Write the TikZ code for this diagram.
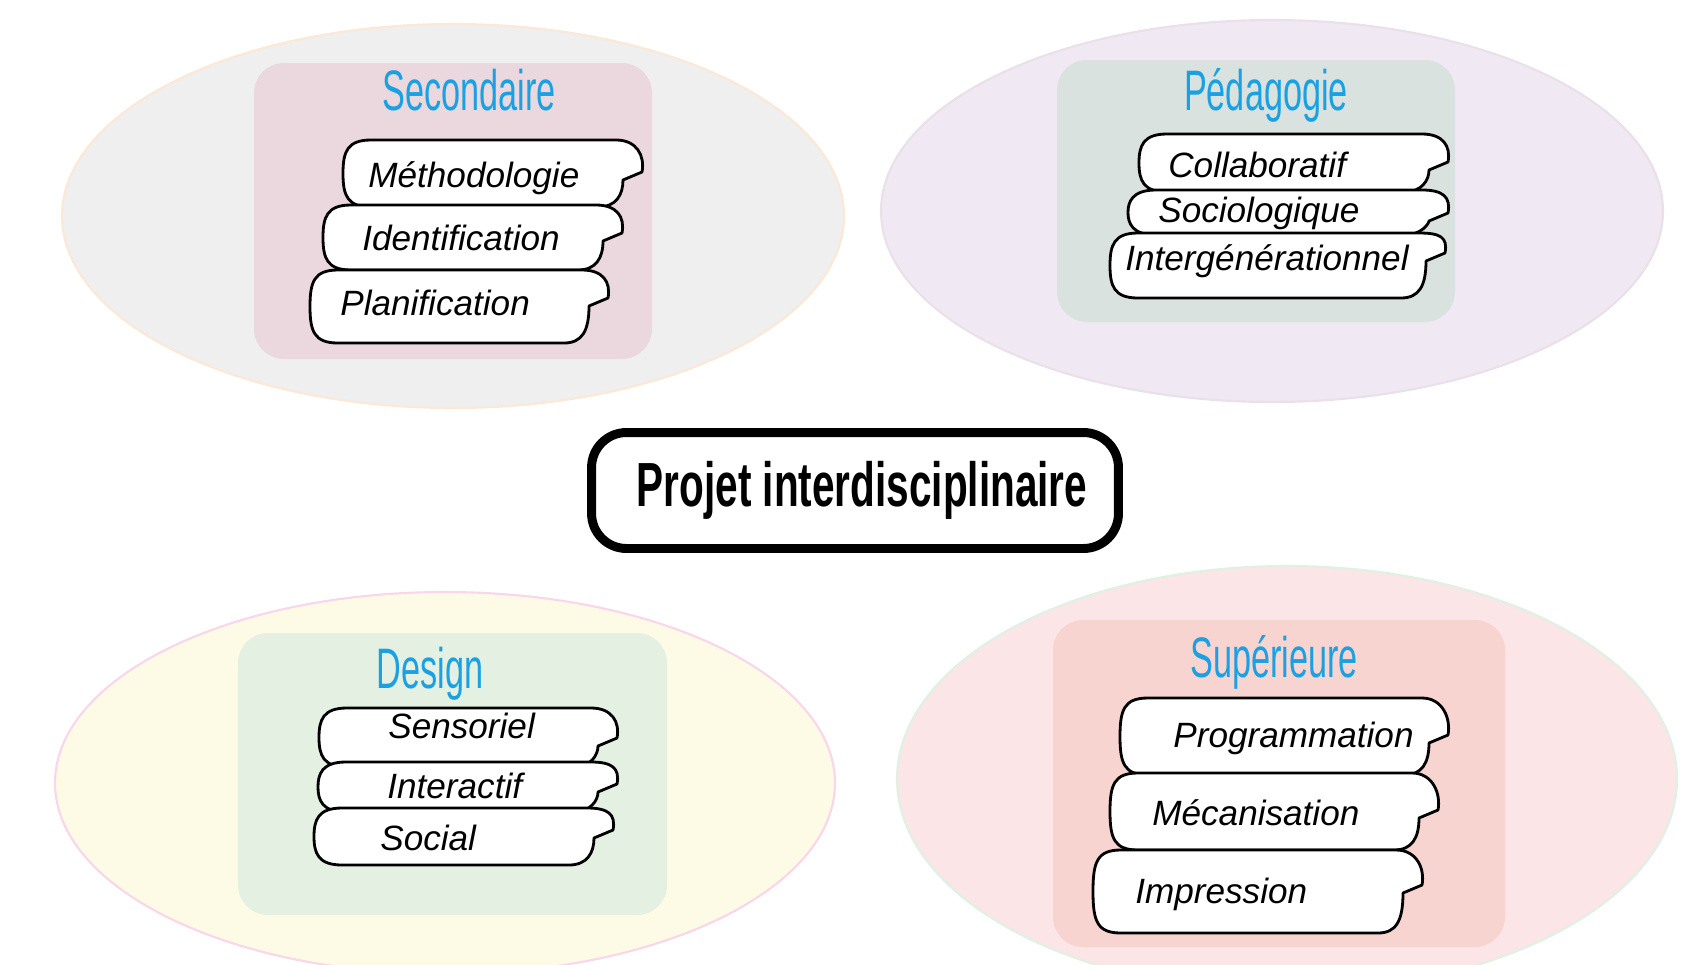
\documentclass[tikz,border=0pt]{standalone}
\usepackage{fontspec}
\setmainfont{Liberation Sans}
\newfontfamily\narrowfont[FakeStretch=0.6]{Liberation Sans}
\newfontfamily\centrefont[FakeStretch=0.65]{Liberation Sans}

\definecolor{titleblue}{HTML}{1BA1E2}
\definecolor{ovalA}{HTML}{EFEFEF}
\definecolor{ovalAline}{HTML}{FCE8D6}
\definecolor{ovalB}{HTML}{F0E8F2}
\definecolor{ovalBline}{HTML}{EAE0EA}
\definecolor{ovalC}{HTML}{FDFBE6}
\definecolor{ovalCline}{HTML}{F9D6EA}
\definecolor{ovalD}{HTML}{FBE5E7}
\definecolor{ovalDline}{HTML}{E0F1E4}
\definecolor{boxA}{HTML}{EAD8DE}
\definecolor{boxB}{HTML}{D9E2DF}
\definecolor{boxC}{HTML}{E3F0E2}
\definecolor{boxD}{HTML}{F8D4D1}

\begin{document}
\begin{tikzpicture}[x=0.02cm, y=-0.02cm,
  zone/.style={line width=1.2pt},
  panel/.style={rounded corners=0.6cm},
  titre/.style={anchor=base, inner sep=0pt, text=titleblue,
    font=\narrowfont\fontsize{32.5}{36}\selectfont},
  tagline/.style={draw=black, fill=white, line width=1.6pt, line join=round},
  tagtext/.style={anchor=base west, inner sep=0pt,
    font=\itshape\fontsize{20}{24}\selectfont},
  centre/.style={draw=black, fill=white, line width=5.1pt, rounded corners=0.7cm,
    minimum width=10.54cm, minimum height=2.32cm, inner sep=0pt,
    font=\centrefont\bfseries\fontsize{35.5}{40}\selectfont}]

  \useasboundingbox (0,0) rectangle (1704,964);
  \clip (0,0) rectangle (1704,964);

  % ovales
  \draw[zone, draw=ovalAline, fill=ovalA] (453,216) ellipse [x radius=391, y radius=192];
  \draw[zone, draw=ovalBline, fill=ovalB] (1272,211) ellipse [x radius=391, y radius=191];
  \draw[zone, draw=ovalCline, fill=ovalC] (445,783) ellipse [x radius=390, y radius=191];
  \draw[zone, draw=ovalDline, fill=ovalD] (1287,779) ellipse [x radius=390, y radius=213];

  % cadres
  \fill[panel, boxA] (254,63) rectangle (652,359);
  \fill[panel, boxB] (1057,60) rectangle (1455,322);
  \fill[panel, boxC] (238,633) rectangle (667,915);
  \fill[panel, boxD] (1053,620) rectangle (1505,947);

  \node[titre] (secondaire) at (469,110) {Secondaire};
  \node[titre] (pedagogie) at (1266,110) {Pédagogie};
  \node[titre] (design) at (430,688) {Design};
  \node[titre] (superieure) at (1274,677) {Supérieure};

  % etiquettes
  \foreach \nm/\L/\T/\R/\Y/\B/\tx/\ty/\txt in {
      met/343/140/642/172/207/368/187/Méthodologie,
      ide/323/205/622/233/270/362/250/Identification,
      pla/310/270/608/298/343/340/315/Planification,
      col/1139/134/1448/162/192/1168/177/Collaboratif,
      soc/1128/190/1448/213/235/1158/222/Sociologique,
      itg/1110/233/1445/253/298/1125/270/Intergénérationnel,
      sen/319/708/617/738/767/388/738/Sensoriel,
      ita/318/762/617/784/812/387/798/Interactif,
      sol/314/808/613/830/865/380/850/Social,
      pro/1120/698/1448/735/775/1173/747/Programmation,
      mec/1110/773/1438/810/850/1152/825/Mécanisation,
      imp/1093/850/1422/885/933/1135/903/Impression} {
    \draw[tagline] ({\L+28},\T) -- ({\R-26},\T)
      .. controls ({\R-5},\T) and ({\R+3},{\Y-16}) .. (\R,\Y)
      -- ({\R-19},{\Y+8})
      .. controls ({\R-19},{\B-12}) and ({\R-26},\B) .. ({\R-44},\B)
      -- ({\L+28},\B)
      .. controls ({\L+4},\B) and (\L,{\B-12}) .. (\L,{(\T+\B)/2})
      .. controls (\L,{\T+12}) and ({\L+4},\T) .. cycle;
    \node[tagtext] (\nm) at (\tx,\ty) {\txt};
  }

  \node[centre] (projet) at (855,490.5) {\hspace*{0.28cm}Projet interdisciplinaire};
\end{tikzpicture}
\end{document}
